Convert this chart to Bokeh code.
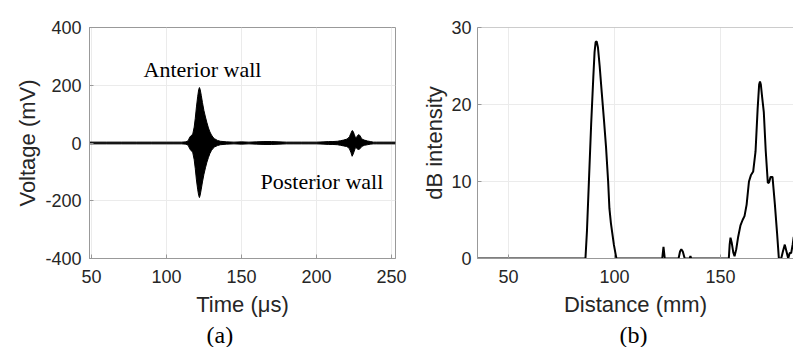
from bokeh.plotting import figure
from bokeh.models import Range1d, Label, Span, FixedTicker, Title
from bokeh.layouts import row
from bokeh.embed import file_html
from bokeh.resources import INLINE

# ---------------- Panel (a): echo signal envelope ----------------
time_us = [48.7, 60, 70, 80, 90, 100, 105, 110, 113, 114.5, 115.5, 116.5, 117.5,
           118.5, 119.2, 120, 120.8, 121.5, 122, 122.5, 123.2, 124, 125, 126, 127,
           128, 129, 130, 131, 132, 134, 136, 140, 145, 150, 155, 160, 165, 170,
           175, 180, 185, 190, 195, 200, 205, 208, 211, 214, 216, 218, 220, 221,
           222, 223, 223.8, 224.5, 225.2, 226, 226.8, 227.6, 228.4, 229.2, 230,
           231, 232, 234, 236, 238, 240, 245, 250, 252.7]
volt_upper = [3, 3, 3, 3, 3, 3, 3, 3, 4, 8, 20, 26, 30,
              55, 85, 125, 160, 185, 192, 185, 165, 140, 112, 90, 70,
              52, 38, 28, 20, 15, 9, 6, 4, 3, 4, 3, 4, 5, 5,
              4, 3, 3, 3, 3, 3, 4, 5, 5, 6, 8, 10, 13, 16,
              22, 34, 43, 40, 30, 18, 20, 27, 29, 24, 16,
              12, 10, 7, 5, 3, 3, 3, 3, 3]
volt_lower = [-3, -3, -3, -3, -3, -3, -3, -3, -4, -8, -20, -27, -32,
              -58, -88, -128, -160, -182, -189, -180, -160, -135, -108, -86, -66,
              -50, -36, -26, -19, -14, -9, -6, -4, -3, -4, -3, -4, -5, -5,
              -4, -3, -3, -3, -3, -3, -4, -5, -5, -6, -8, -10, -12, -15,
              -20, -33, -46, -38, -28, -16, -18, -22, -22, -19, -13,
              -10, -8, -6, -4, -3, -3, -3, -3, -3]
a_xticks = [50, 100, 150, 200, 250]
a_yticks = [-400, -200, 0, 200, 400]

# ---------------- Panel (b): dB intensity profile ----------------
dist_mm = [35.4, 86.3, 87.0, 88.0, 89.0, 90.0, 90.6, 91.1, 91.6, 92.2, 93.0, 94.0,
           95.0, 96.0, 97.0, 97.6, 98.3, 99.0, 99.7, 100.9, 122.5, 123.1, 123.7,
           130.2, 130.9, 131.5, 132.2, 133.1, 135.4, 135.8, 136.2, 153.9, 154.3,
           154.7, 155.3, 156.0, 156.6, 157.4, 158.3, 159.4, 160.4, 161.3, 162.3,
           163.4, 164.3, 165.4, 166.5, 167.5, 168.2, 168.6, 169.0, 169.6, 170.4,
           171.3, 172.3, 172.9, 173.6, 174.5, 175.0, 175.6, 176.6, 177.5, 178.6,
           179.4, 180.3, 181.1, 181.9, 182.6, 183.3, 184.0, 184.5]
db_intensity = [0, 0, 3.5, 10.5, 17.5, 23.5, 26.8, 28.1, 28.2, 27.4, 25.0, 21.5,
                18.1, 14.5, 10.0, 6.5, 4.6, 3.2, 1.8, 0, 0, 1.5, 0,
                0, 0.9, 1.2, 0.9, 0, 0, 0.3, 0, 0, 1.8,
                2.7, 2.0, 0.8, 0.3, 1.2, 2.8, 4.3, 5.0, 5.5, 7.0,
                10.0, 10.8, 11.3, 13.9, 19.5, 22.6, 23.0, 22.6, 21.0, 19.0,
                14.0, 9.8, 9.9, 10.6, 10.6, 9.0, 7.1, 3.5, 0, 0,
                0.9, 1.8, 0.9, 0, 0.7, 0.7, 1.8, 2.8]
b_xticks = [50, 100, 150]
b_yticks = [0, 10, 20, 30]

SANS = "Liberation Sans"
SERIF = "Liberation Serif"
TXT = "#262626"
AX = "#999999"
GRID = "#ebebeb"


def style(p, xt, yt):
    p.xaxis.ticker = FixedTicker(ticks=xt)
    p.yaxis.ticker = FixedTicker(ticks=yt)
    p.yaxis.major_label_overrides = {t: str(t) for t in yt}
    p.xaxis.major_label_overrides = {t: str(t) for t in xt}
    for ax in (p.xaxis[0], p.yaxis[0]):
        ax.major_label_text_font = SANS
        ax.major_label_text_font_size = "18px"
        ax.major_label_text_color = TXT
        ax.axis_label_text_font = SANS
        ax.axis_label_text_font_size = "22px"
        ax.axis_label_text_font_style = "normal"
        ax.axis_label_text_color = TXT
        ax.axis_line_color = AX
        ax.major_tick_line_color = AX
        ax.major_tick_in = 4
        ax.major_tick_out = 0
        ax.minor_tick_line_color = None
    p.xaxis.major_label_standoff = 11
    p.xaxis.axis_label_standoff = 6
    p.xgrid.ticker = FixedTicker(ticks=xt)
    p.ygrid.ticker = FixedTicker(ticks=yt)
    p.grid.grid_line_color = GRID
    p.background_fill_color = "white"
    p.border_fill_color = "white"


# ---- figure (a)
pa = figure(width=410, height=347, output_backend="svg", toolbar_location=None,
            x_range=Range1d(48.7, 252.7), y_range=Range1d(-400, 400),
            min_border_left=89, min_border_right=15, min_border_top=24,
            min_border_bottom=88)
style(pa, a_xticks, a_yticks)
pa.yaxis.major_label_standoff = 8
pa.yaxis.axis_label_standoff = 2
pa.xaxis.axis_label = "Time (μs)"
pa.yaxis.axis_label = "Voltage (mV)"
pa.outline_line_color = AX
pa.varea(x=time_us, y1=volt_lower, y2=volt_upper, fill_color="black")
pa.line(time_us, volt_upper, line_color="black", line_width=1)
pa.line(time_us, volt_lower, line_color="black", line_width=1)
pa.add_layout(Label(x=84.7, y=253, text="Anterior wall", text_font=SERIF,
                    text_font_size="22px", text_color="black",
                    text_baseline="middle", text_align="left"))
pa.add_layout(Label(x=162.7, y=-133, text="Posterior wall", text_font=SERIF,
                    text_font_size="22px", text_color="black",
                    text_baseline="middle", text_align="left"))
pa.add_layout(Title(text="(a)", align="left", offset=117, text_font=SERIF,
                    text_font_size="24px", text_font_style="normal",
                    text_color="black", standoff=0), "below")

# ---- figure (b)
pb = figure(width=383, height=347, output_backend="svg", toolbar_location=None,
            x_range=Range1d(35.4, 184.4), y_range=Range1d(0, 30),
            min_border_left=67, min_border_right=0, min_border_top=27,
            min_border_bottom=85)
style(pb, b_xticks, b_yticks)
pb.yaxis.major_label_standoff = 6
pb.yaxis.axis_label_standoff = 1
pb.xaxis.axis_label = "Distance (mm)"
pb.yaxis.axis_label = "dB intensity"
pb.outline_line_color = None
pb.add_layout(Span(location=30, dimension="width", line_color=AX, line_width=1))
pb.line(dist_mm, db_intensity, line_color="black", line_width=2)
pb.add_layout(Title(text="(b)", align="left", offset=142, text_font=SERIF,
                    text_font_size="24px", text_font_style="normal",
                    text_color="black", standoff=0), "below")

layout = row(pa, pb)
open("out.html", "w").write(file_html(layout, INLINE))
